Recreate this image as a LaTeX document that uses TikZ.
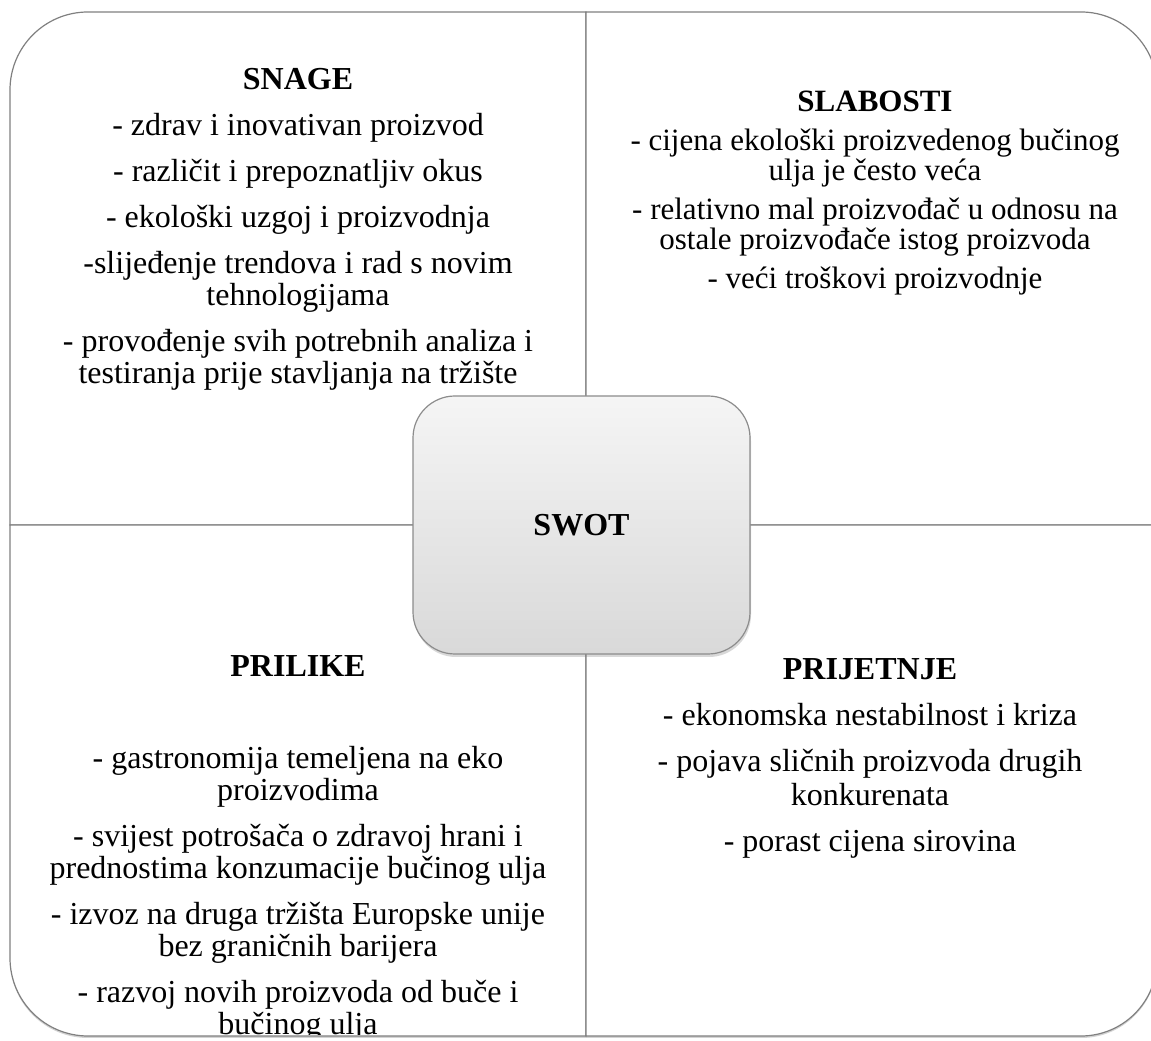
\documentclass[tikz,border=0pt]{standalone}
\usepackage{fontspec}
\setmainfont{Liberation Serif}
\usetikzlibrary{shadows}

\begin{document}
\begin{tikzpicture}
[x=1pt, y=1pt,
quadrant/.style={draw=black!50, line width=1.2pt, fill=white,
  drop shadow={shadow xshift=0pt, shadow yshift=-2pt, opacity=0.35}},
swotbox/.style={draw=black!45, line width=1.2pt, rounded corners=42pt,
  minimum width=337pt, minimum height=258pt,
  top color=black!4, bottom color=black!15,
  drop shadow={shadow xshift=1pt, shadow yshift=-3pt, opacity=0.3},
  font=\fontsize{32}{32}\selectfont\bfseries},
every node/.style={align=center, inner sep=0pt},
quadtext/.style={anchor=base, font=\fontsize{32}{32}\selectfont},
]
\clip (0,0) rectangle (1151,1041);

% the four fields
\draw[quadrant] (586,516) -- (10,516) -- (10,951)
  arc[start angle=180, end angle=90, radius=78] -- (586,1029) -- cycle;
\draw[quadrant] (586,516) -- (586,1029) -- (1081,1029)
  arc[start angle=90, end angle=0, radius=76] -- (1157,516) -- cycle;
\draw[quadrant] (586,516) -- (586,5) -- (88,5)
  arc[start angle=270, end angle=180, radius=78] -- (10,516) -- cycle;
\draw[quadrant] (586,516) -- (1157,516) -- (1157,81)
  arc[start angle=0, end angle=-90, radius=76] -- (586,5) -- cycle;

% texts, placed by the baseline of their last line
\node[quadtext] (snage) at (298,657) {\textbf{SNAGE}\\[14pt]
  - zdrav i inovativan proizvod\\[14pt]
  - različit i prepoznatljiv okus\\[14pt]
  - ekološki uzgoj i proizvodnja\\[14pt]
  -slijeđenje trendova i rad s novim\\tehnologijama\\[14pt]
  - provođenje svih potrebnih analiza i\\testiranja prije stavljanja na tržište};

\node[quadtext, font=\fontsize{31}{30}\selectfont] (slabosti) at (875,752) {\textbf{SLABOSTI}\\[9pt]
  - cijena ekološki proizvedenog bučinog\\ulja je često veća\\[9pt]
  - relativno mal proizvođač u odnosu na\\ostale proizvođače istog proizvoda\\[9pt]
  - veći troškovi proizvodnje};

\begin{scope}
\clip (10,6) rectangle (586,516);
\node[quadtext] (prilike) at (298,6) {\textbf{PRILIKE}\\[60pt]
  - gastronomija temeljena na eko\\proizvodima\\[14pt]
  - svijest potrošača o zdravoj hrani i\\prednostima konzumacije bučinog ulja\\[14pt]
  - izvoz na druga tržišta Europske unije\\bez graničnih barijera\\[14pt]
  - razvoj novih proizvoda od buče i\\bučinog ulja};
\end{scope}

\node[quadtext, font=\fontsize{32}{34}\selectfont] (prijetnje) at (870,189) {\textbf{PRIJETNJE}\\[12pt]
  - ekonomska nestabilnost i kriza\\[12pt]
  - pojava sličnih proizvoda drugih\\konkurenata\\[12pt]
  - porast cijena sirovina};

% centre
\node[swotbox] (swot) at (581.5,516) {SWOT};
\end{tikzpicture}
\end{document}
